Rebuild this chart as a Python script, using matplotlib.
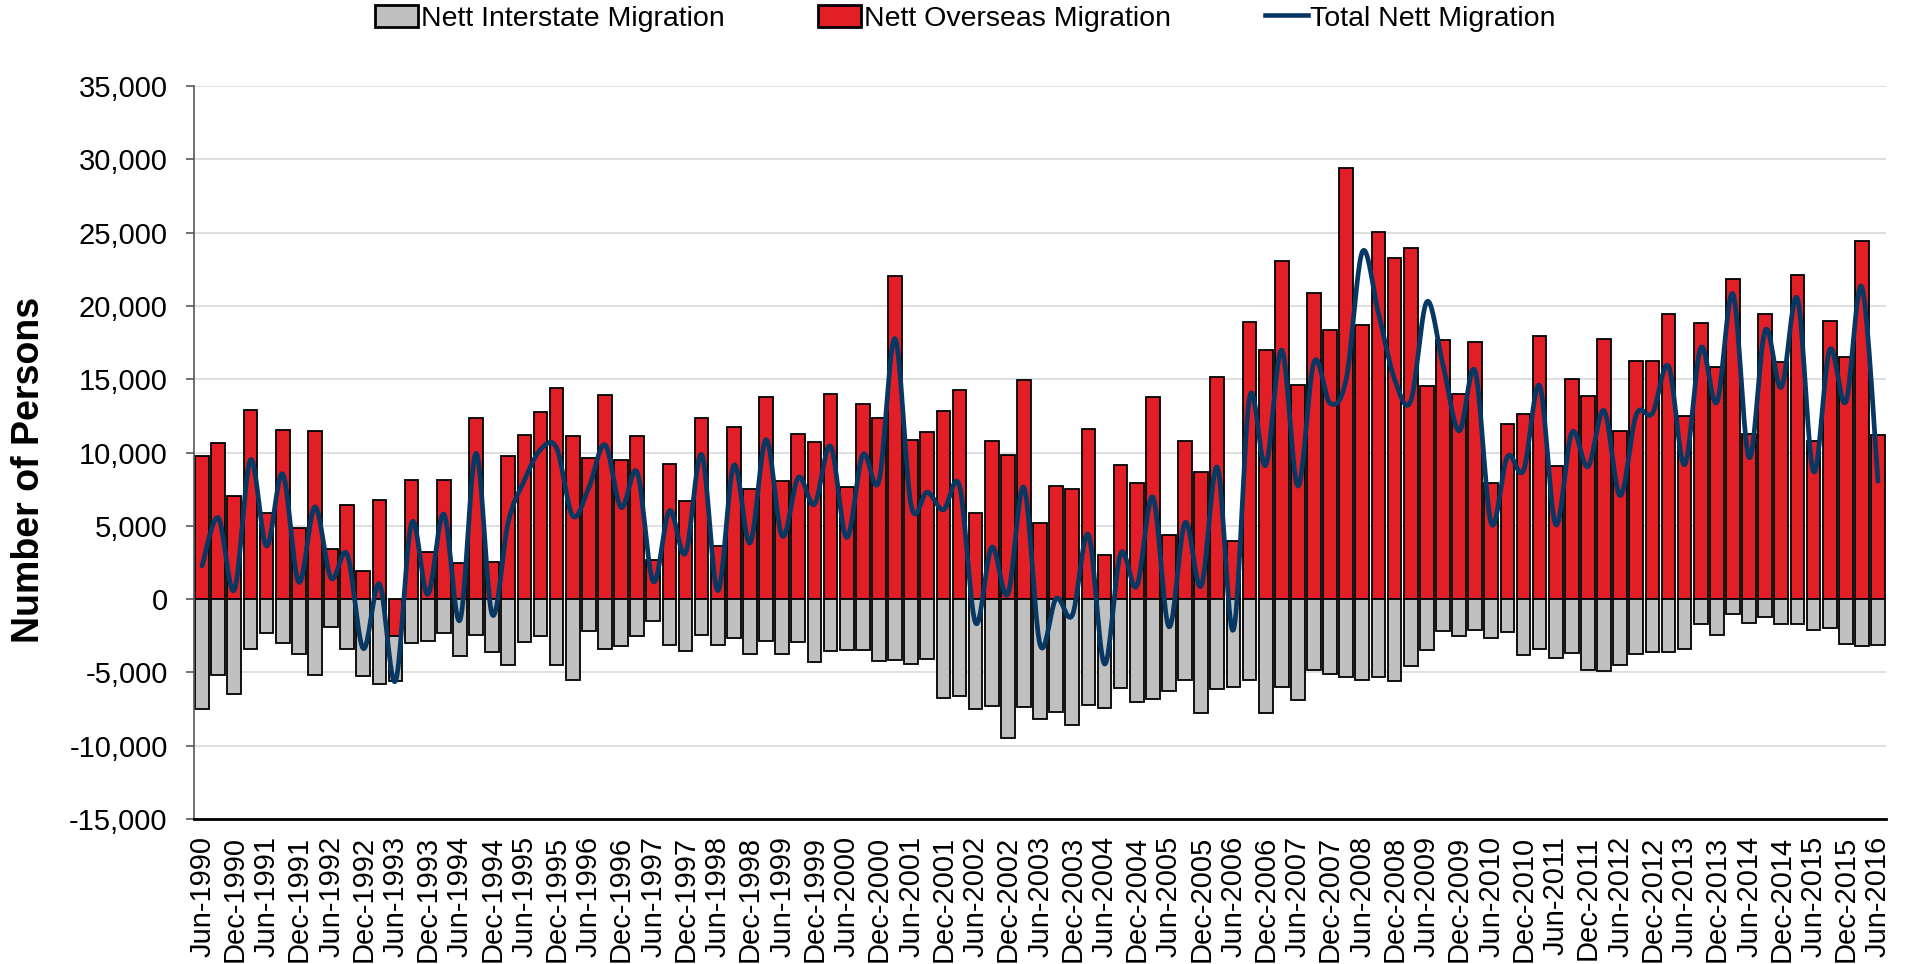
import numpy as np
import matplotlib
matplotlib.use("Agg")
import matplotlib.pyplot as plt
from matplotlib.patches import Patch
from matplotlib.lines import Line2D
from matplotlib.ticker import FuncFormatter

plt.rcParams['font.family'] = ['Liberation Sans', 'DejaVu Sans']

# quarterly, Jun-1990 .. Jun-2016
overseas = [
    9760, 10640, 7010, 12870, 5860, 11520, 4840, 11450, 3390, 6400,
    1900, 6770, -2540, 8130, 3180, 8130, 2470, 12360, 2540, 9760,
    11180, 12770, 14400, 11110, 9650, 13950, 9480, 11110, 2640, 9210,
    6670, 12330, 3590, 11750, 7490, 13790, 8030, 11250, 10740, 14020,
    7620, 13310, 12360, 22020, 10840, 11380, 12840, 14260, 5890, 10810,
    9820, 14970, 5170, 7720, 7490, 11620, 2980, 9150, 7890, 13790,
    4370, 10770, 8640, 15170, 3930, 18870, 16990, 23030, 14620, 20890,
    18330, 29420, 18710, 25070, 23270, 23920, 14570, 17700, 13980, 17530,
    7890, 11960, 12600, 17950, 9080, 15040, 13850, 17750, 11480, 16260,
    16260, 19480, 12460, 18800, 15850, 21810, 11280, 19480, 16160, 22120,
    10770, 18970, 16500, 24450, 11180]

interstate = [
    -7520, -5150, -6440, -3390, -2300, -2980, -3730, -5150, -1930, -3390,
    -5250, -5760, -3050, -2980, -2880, -2300, -3900, -2440, -3620, -4470,
    -2950, -2540, -4510, -5520, -2200, -3390, -3220, -2540, -1520, -3150,
    -3560, -2440, -3120, -2640, -3730, -2880, -3730, -2950, -4300, -3560,
    -3460, -3460, -4230, -4170, -4400, -4060, -6770, -6610, -7520, -7280,
    -9480, -7350, -8160, -7720, -8570, -7210, -7450, -6060, -7050, -6810,
    -6300, -5520, -7790, -6160, -6000, -5490, -7790, -6000, -6880, -4840,
    -5080, -5320, -5490, -5320, -5590, -4570, -3460, -2200, -2540, -2100,
    -2640, -2270, -3830, -3390, -4000, -3660, -4840, -4910, -4470, -3730,
    -3620, -3620, -3390, -1690, -2470, -1020, -1630, -1190, -1730, -1690,
    -2100, -2000, -3050, -3220, -3120]

total = [
    2270, 5550, 620, 9500, 3620, 8540, 1150, 6290, 1440, 3060,
    -3370, 1040, -5590, 5200, 320, 5800, -1440, 9950, -1050, 5270,
    8100, 10200, 10300, 5680, 7600, 10530, 6260, 8640, 1190, 6030,
    3130, 9860, 580, 9130, 3830, 10880, 4300, 8300, 6470, 10430,
    4200, 9840, 8050, 17770, 6390, 7300, 6090, 7720, -1630, 3540,
    340, 7620, -3100, 40, -1100, 4400, -4430, 3100, 880, 6960,
    -1890, 5220, 900, 9000, -2100, 13750, 9120, 16990, 7710, 16170,
    13350, 15000, 23690, 19500, 15000, 13500, 20280, 16000, 11470, 15550,
    5160, 9720, 8770, 14560, 5080, 11360, 9030, 12860, 7060, 12580,
    12670, 15890, 9160, 17140, 13420, 20810, 9650, 18340, 14450, 20500,
    8690, 17000, 13450, 21290, 8040]

years = list(range(1990, 2017))
tick_labels = []
for y in years:
    tick_labels.append('Jun-%d' % y)
    if y < 2016:
        tick_labels.append('Dec-%d' % y)

red = '#E21F26'
grey = '#C0C0C0'
navy = '#073763'


def smooth(xs, ys, steps=20):
    # Excel style smoothed line (cubic bezier, catmull-rom control points)
    xs = np.asarray(xs, float)
    ys = np.asarray(ys, float)
    px = np.concatenate([[xs[0]], xs, [xs[-1]]])
    py = np.concatenate([[ys[0]], ys, [ys[-1]]])
    outx, outy = [], []
    t = np.linspace(0, 1, steps, endpoint=False)
    for i in range(1, len(px) - 2):
        p0x, p1x, p2x, p3x = px[i - 1], px[i], px[i + 1], px[i + 2]
        p0y, p1y, p2y, p3y = py[i - 1], py[i], py[i + 1], py[i + 2]
        c1x = p1x + (p2x - p0x) / 6
        c1y = p1y + (p2y - p0y) / 6
        c2x = p2x - (p3x - p1x) / 6
        c2y = p2y - (p3y - p1y) / 6
        b0 = (1 - t) ** 3
        b1 = 3 * (1 - t) ** 2 * t
        b2 = 3 * (1 - t) * t ** 2
        b3 = t ** 3
        outx.extend(b0 * p1x + b1 * c1x + b2 * c2x + b3 * p2x)
        outy.extend(b0 * p1y + b1 * c1y + b2 * c2y + b3 * p2y)
    outx.append(xs[-1])
    outy.append(ys[-1])
    return np.array(outx), np.array(outy)


fig = plt.figure(figsize=(19.08, 9.64), dpi=100)
ax = fig.add_axes([0.1017, 0.1504, 0.8868, 0.7604])

x = np.arange(len(overseas))
ov = np.array(overseas)
ax.bar(x, overseas, width=0.85, color=red, edgecolor='black', linewidth=1.3, zorder=2)
ax.bar(x, interstate, bottom=np.minimum(ov, 0), width=0.85, color=grey,
       edgecolor='black', linewidth=1.3, zorder=2)

sx, sy = smooth(x, total)
ax.plot(sx, sy, color=navy, linewidth=3.4, zorder=3, solid_capstyle='round')

ax.set_xlim(-0.5, len(x) - 0.5)
ax.set_ylim(-15000, 35000)
ax.set_yticks(np.arange(-15000, 35001, 5000))
ax.yaxis.set_major_formatter(FuncFormatter(lambda v, p: '{:,.0f}'.format(v)))
ax.set_xticks(np.arange(0, len(x), 2))
ax.set_xticklabels(tick_labels, rotation=90)

ax.grid(axis='y', color='#D9D9D9', linewidth=1.2, zorder=0)
ax.set_axisbelow(True)
for s in ['top', 'right']:
    ax.spines[s].set_visible(False)
ax.spines['left'].set_color('#595959')
ax.spines['left'].set_linewidth(1.2)
ax.spines['bottom'].set_color('black')
ax.spines['bottom'].set_linewidth(2)

ax.tick_params(axis='y', labelsize=21, length=6, width=1.2, color='#595959', pad=13)
ax.tick_params(axis='x', labelsize=21, length=0, pad=12)

ax.set_ylabel('Number of Persons', fontsize=27, fontweight='bold')
ax.yaxis.set_label_coords(-0.087, 0.476)

handles = [Patch(facecolor=grey, edgecolor='black', linewidth=2),
           Patch(facecolor=red, edgecolor='black', linewidth=2),
           Line2D([0], [0], color=navy, linewidth=3.3)]
fig.legend(handles, ['Nett Interstate Migration', 'Nett Overseas Migration', 'Total Nett Migration'],
           loc='center', bbox_to_anchor=(0.506, 0.981), ncol=3, frameon=False,
           fontsize=20.5, handlelength=1.5, handleheight=0.8, handletextpad=0.1,
           columnspacing=3.3)

fig.savefig('out.png', dpi=100)
